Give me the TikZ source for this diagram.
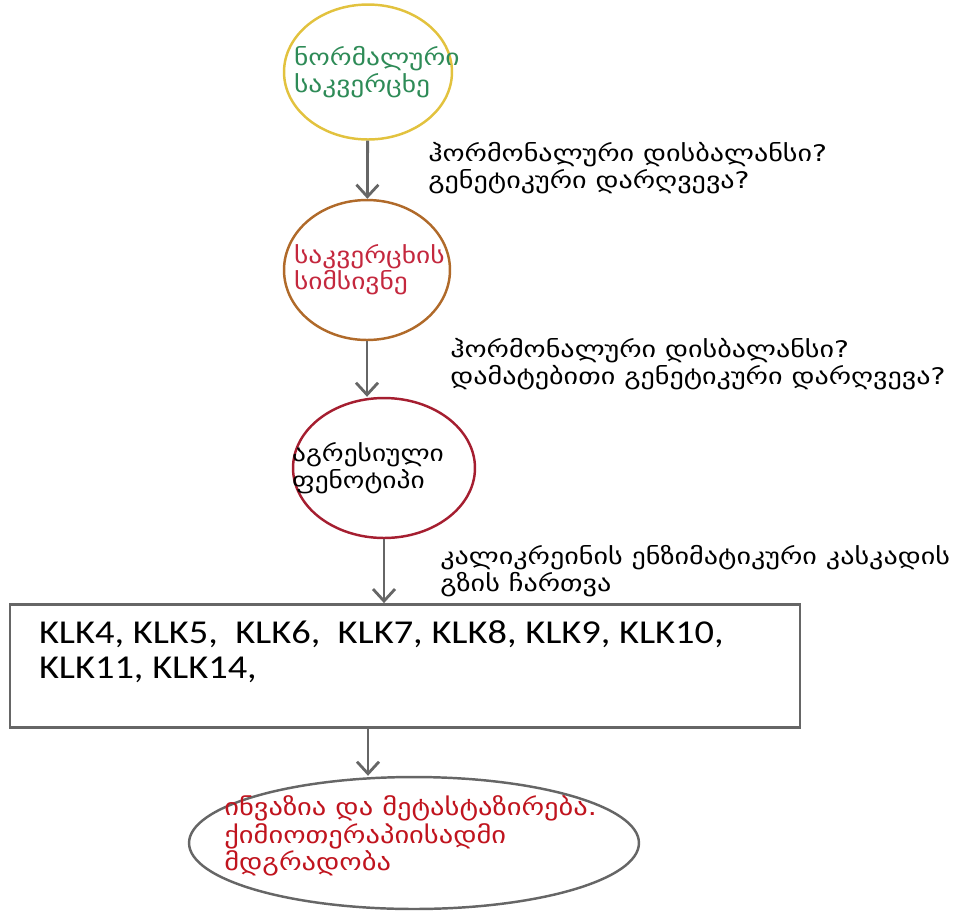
\documentclass[tikz,border=0pt]{standalone}
\usepackage{fontspec}
\setmainfont{DejaVu Sans}
\newfontfamily\geo{DejaVu Sans}[FakeStretch=1.2]
\newfontfamily\geowide{DejaVu Sans}[FakeStretch=1.23]
\newfontfamily\klkfont{Carlito}[FakeStretch=1.15]
\usetikzlibrary{arrows.meta,positioning,shapes.geometric}
\definecolor{ringA}{HTML}{E2C23E}
\definecolor{ringB}{HTML}{B06A2A}
\definecolor{ringC}{HTML}{A51E30}
\definecolor{txtA}{HTML}{2E8B57}
\definecolor{txtB}{HTML}{C4283E}
\definecolor{txtR}{HTML}{C0141E}
\definecolor{lineG}{HTML}{666666}

\begin{document}
\begin{tikzpicture}[x=0.02cm,y=-0.02cm,
  ring/.style={ellipse,line width=1.4pt,inner sep=0pt},
  ctext/.style={font=\geo\fontsize{13}{15}\selectfont,align=left,inner sep=0pt},
  note/.style={font=\geowide\fontsize{13}{15.5}\selectfont,align=left,anchor=west,inner sep=0pt},
  flow/.style={-{Straight Barb[length=2.4mm,width=4.4mm]},line width=1.6pt,lineG}]
\useasboundingbox (0,0) rectangle (978,914);
\node[ring,draw=ringA,minimum width=3.36cm,minimum height=2.7cm] (c1) at (368,72) {};
\node[ctext,txtA,right=0.22cm of c1.west] (t1) {ნორმალური\\საკვერცხე};
\node[ring,draw=ringB,minimum width=3.32cm,minimum height=2.8cm] (c2) at (367,270) {};
\node[ctext,txtB,right=0.22cm of c2.west] (t2) {საკვერცხის\\სიმსივნე};
\node[ring,draw=ringC,minimum width=3.64cm,minimum height=2.8cm] (c3) at (384,468) {};
\node[ctext,right=0cm of c3.west] (t3) {აგრესიული\\ფენოტიპი};
\node[draw=lineG,line width=1.6pt,minimum width=15.8cm,minimum height=2.46cm,inner sep=0pt] (box) at (405,666) {};
\node[font=\klkfont\fontsize{19}{20}\selectfont,align=left,inner sep=0pt,below right=0.34cm and 0.6cm of box.north west] (klk) {KLK4, KLK5,\ \ KLK6,\ \ KLK7, KLK8, KLK9, KLK10,\\KLK11, KLK14,};
\node[ring,draw=lineG,minimum width=9.0cm,minimum height=2.64cm] (out) at (414,843) {};
\node[ctext,txtR,anchor=west,font=\geo\fontsize{13.5}{15.5}\selectfont] (t5) at (224,836) {ინვაზია და მეტასტაზირება.\\ქიმიოთერაპიისადმი\\მდგრადობა};
\node[note] (l1) at (428,168) {ჰორმონალური დისბალანსი?\\გენეტიკური დარღვევა?};
\node[note] (l2) at (450,364) {ჰორმონალური დისბალანსი?\\დამატებითი გენეტიკური დარღვევა?};
\node[note] (l3) at (440,571) {კალიკრეინის ენზიმატიკური კასკადის\\გზის ჩართვა};
\draw[flow] (c1) -- (c2);
\draw[flow] (c2.south) -- (c2.south |- c3.north);
\draw[flow] (c3.south) -- (c3.south |- box.north);
\draw[flow] (box.south -| c1) -- (c1 |- out.north);
\end{tikzpicture}
\end{document}
